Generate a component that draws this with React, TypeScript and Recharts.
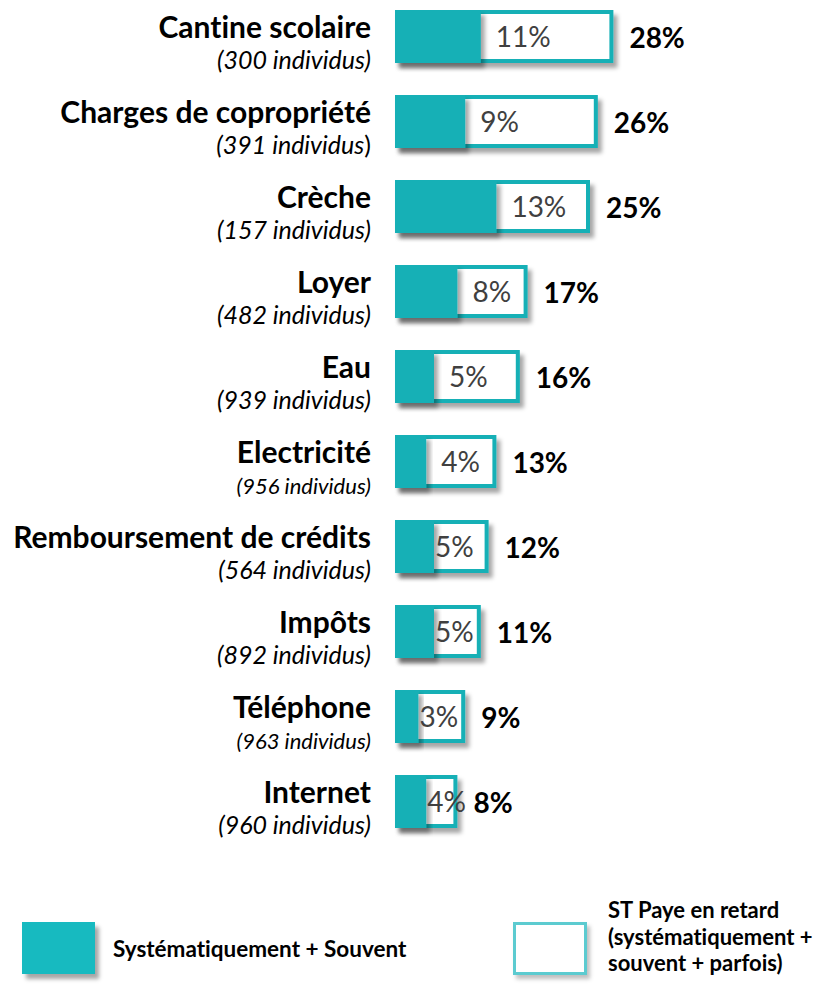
import React from 'react';
import { Bar, BarChart, LabelList, XAxis, YAxis } from 'recharts';

const CATEGORIES = [
  'Cantine scolaire', 'Charges de copropriété', 'Crèche', 'Loyer', 'Eau',
  'Electricité', 'Remboursement de crédits', 'Impôts', 'Téléphone', 'Internet'
];
const INDIVIDUS = [300, 391, 157, 482, 939, 956, 564, 892, 963, 960];
const SOUVENT = [11, 9, 13, 8, 5, 4, 5, 5, 3, 4];   // Systématiquement + Souvent
const RETARD = [28, 26, 25, 17, 16, 13, 12, 11, 9, 8]; // ST Paye en retard

const TEAL = '#14B0B6';
const FONT = 'Lato, "Open Sans", sans-serif';
const SMALL_NOTE = new Set(['Electricité', 'Téléphone']);
const UPRIGHT_PAREN = new Set(['Charges de copropriété']);

const data = CATEGORIES.map((name, i) => ({
  name, individus: INDIVIDUS[i], souvent: SOUVENT[i], retard: RETARD[i]
}));

function CategoryTick(props: any) {
  const { x, y, payload } = props;
  const name = payload.value as string;
  const n = INDIVIDUS[CATEGORIES.indexOf(name)];
  const small = SMALL_NOTE.has(name);
  const upright = UPRIGHT_PAREN.has(name);
  return (
    <g>
      <text x={x} y={y + 1} textAnchor="end" fontFamily={FONT} fontWeight={700} fontSize={30} fill="#000">
        {name}
      </text>
      <text x={x} y={y + 32} textAnchor="end" fontFamily={FONT} fontStyle="italic" fontSize={small ? 22 : 25} fill="#000">
        {`(${n} individus`}
        <tspan fontStyle={upright ? 'normal' : 'italic'}>)</tspan>
      </text>
    </g>
  );
}

function OutlineBar(props: any) {
  const { x, y, width, height } = props;
  return (
    <rect x={x + 2} y={y + 2} width={Math.max(width - 4, 0)} height={height - 4}
      fill="#fff" stroke={TEAL} strokeWidth={4} filter="url(#barShadow)" />
  );
}

function FillBar(props: any) {
  const { x, y, width, height } = props;
  return <rect x={x} y={y} width={width} height={height} fill={TEAL} filter="url(#barShadow)" />;
}

function InnerLabel(props: any) {
  const { x, y, width, height, value, index } = props;
  const end = x + width;
  const perUnit = width / value;
  const white = (RETARD[index] - value) * perUnit;
  const lx = end + (white > 65 ? 15 : 1);
  return (
    <text x={lx} y={y + height / 2 + 10} fontFamily={FONT} fontSize={28} fill="#404040">
      {`${value}%`}
    </text>
  );
}

function TotalLabel(props: any) {
  const { x, y, width, height, value } = props;
  return (
    <text x={x + width + 16} y={y + height / 2 + 11} fontFamily={FONT} fontWeight={700} fontSize={28} fill="#000">
      {`${value}%`}
    </text>
  );
}

export default function App() {
  return (
    <div style={{ position: 'absolute', left: 0, top: 0, width: 825, height: 988, background: '#fff',
      fontVariantLigatures: 'none' }}>
      <div style={{ position: 'absolute', left: 0, top: -6 }}>
        <BarChart width={825} height={850} data={data} layout="vertical"
          margin={{ top: 0, right: 118, left: 0, bottom: 0 }} barGap={-53} barSize={53}>
          <defs>
            <filter id="barShadow" x="-10%" y="-20%" width="130%" height="160%">
              <feDropShadow dx={4} dy={5} stdDeviation={2.2} floodColor="#000" floodOpacity={0.35} />
            </filter>
          </defs>
          <XAxis type="number" domain={[0, 40]} hide />
          <YAxis type="category" dataKey="name" width={395} tickLine={false} axisLine={false}
            tickMargin={18} interval={0} tick={<CategoryTick />} />
          <Bar dataKey="retard" shape={<OutlineBar />} isAnimationActive={false}>
            <LabelList dataKey="retard" content={<TotalLabel />} />
          </Bar>
          <Bar dataKey="souvent" shape={<FillBar />} isAnimationActive={false}>
            <LabelList dataKey="souvent" content={<InnerLabel />} />
          </Bar>
        </BarChart>
      </div>

      <div style={{ position: 'absolute', left: 22, top: 922, width: 73, height: 52, background: '#17BAC0',
        boxShadow: '4px 5px 4px rgba(0,0,0,0.35)' }} />
      <div style={{ position: 'absolute', left: 113, top: 935, fontFamily: FONT, fontWeight: 700, fontSize: 22.5,
        lineHeight: '28px', whiteSpace: 'nowrap' }}>
        Systématiquement + Souvent
      </div>
      <div style={{ position: 'absolute', left: 513, top: 922, width: 68, height: 47, background: '#fff',
        border: '3px solid #5CCBD0', boxShadow: '3px 4px 4px rgba(0,0,0,0.25)' }} />
      <div style={{ position: 'absolute', left: 608, top: 897, fontFamily: FONT, fontWeight: 700, fontSize: 22,
        lineHeight: '26.5px', whiteSpace: 'nowrap' }}>
        ST Paye en retard<br />(systématiquement +<br />souvent + parfois)
      </div>
    </div>
  );
}
